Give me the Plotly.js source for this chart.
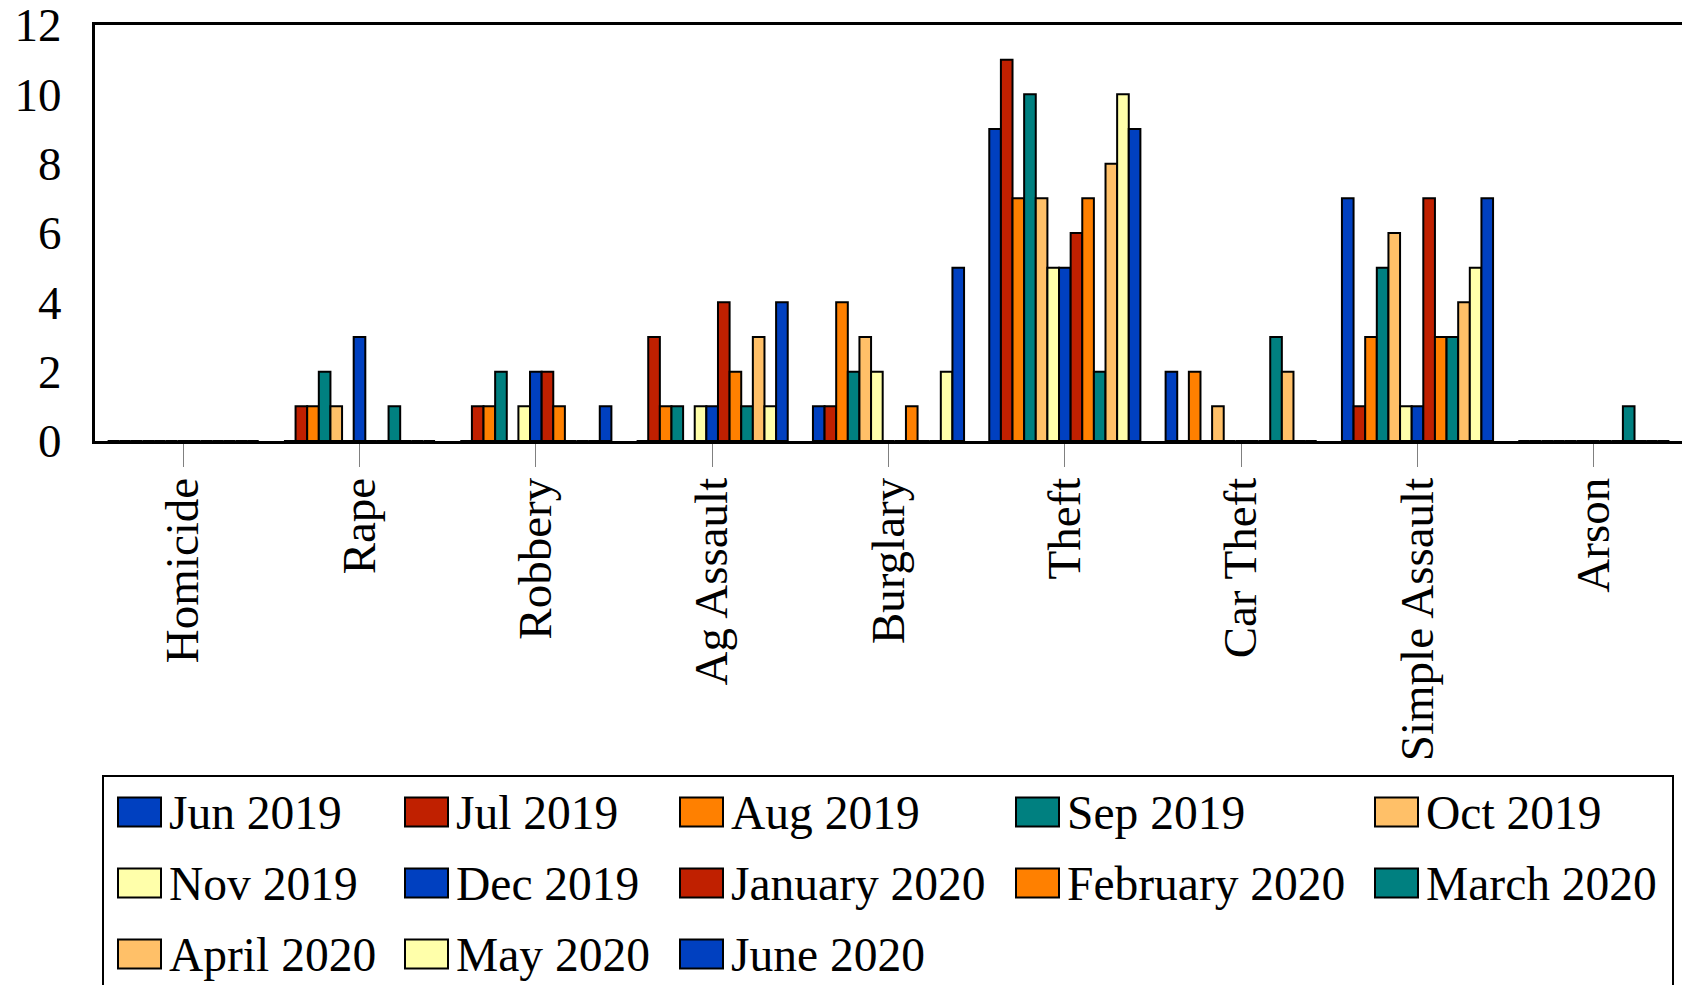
<!DOCTYPE html>
<html>
<head>
<meta charset="utf-8">
<script src="https://cdn.plot.ly/plotly-3.0.1.min.js"></script>
<style>
  html, body { margin: 0; padding: 0; background: #fff; }
  #chart { width: 1682px; height: 985px; }
</style>
</head>
<body>
<div id="chart"></div>
<script>
// ---- data ----
const categories = ["Homicide", "Rape", "Robbery", "Ag Assault", "Burglary", "Theft", "Car Theft", "Simple Assault", "Arson"];
const seriesNames = ["Jun 2019", "Jul 2019", "Aug 2019", "Sep 2019", "Oct 2019", "Nov 2019", "Dec 2019",
                     "January 2020", "February 2020", "March 2020", "April 2020", "May 2020", "June 2020"];
// values per series, in category order
const jun2019 = [0, 0, 0, 0, 1, 9, 2, 7, 0];
const jul2019 = [0, 1, 1, 3, 1, 11, 0, 1, 0];
const aug2019 = [0, 1, 1, 1, 4, 7, 2, 3, 0];
const sep2019 = [0, 2, 2, 1, 2, 10, 0, 5, 0];
const oct2019 = [0, 1, 0, 0, 3, 7, 1, 6, 0];
const nov2019 = [0, 0, 1, 1, 2, 5, 0, 1, 0];
const dec2019 = [0, 3, 2, 1, 0, 5, 0, 1, 0];
const jan2020 = [0, 0, 2, 4, 0, 6, 0, 7, 0];
const feb2020 = [0, 0, 1, 2, 1, 7, 0, 3, 0];
const mar2020 = [0, 1, 0, 1, 0, 2, 3, 3, 1];
const apr2020 = [0, 0, 0, 3, 0, 8, 2, 4, 0];
const may2020 = [0, 0, 0, 1, 2, 10, 0, 5, 0];
const jun2020 = [0, 0, 1, 4, 5, 9, 0, 7, 0];
const seriesValues = [jun2019, jul2019, aug2019, sep2019, oct2019, nov2019, dec2019,
                      jan2020, feb2020, mar2020, apr2020, may2020, jun2020];
const seriesColors = ["#0040C0", "#C02000", "#FF8000", "#008080", "#FFC068", "#FFFFAA",
                      "#0040C0", "#C02000", "#FF8000", "#008080", "#FFC068", "#FFFFAA", "#0040C0"];
const yTicks = [0, 2, 4, 6, 8, 10, 12];

// ---- layout constants ----
const W = 1682, H = 985;
const M = { l: 95, r: 0, t: 25, b: 544 };
const FONT = '"Liberation Serif", "Times New Roman", Times, serif';
const FS = 47;
const plotW = W - M.l - M.r, plotH = H - M.t - M.b;
const px2x = px => (px - M.l) / plotW;
const py2y = py => (H - M.b - py) / plotH;

const traces = seriesNames.map((name, i) => ({
  type: 'bar',
  name: name,
  x: categories,
  y: seriesValues[i],
  marker: { color: seriesColors[i], line: { color: '#000', width: 2 } },
  showlegend: false,
  hoverinfo: 'x+y+name'
}));

// custom legend (grid of 5 columns)
const legCols = [118, 405, 680, 1016, 1375];
const legRows = [812, 883, 954];
const swW = 43, swH = 29;
const shapes = [];
const annotations = [];
shapes.push({
  type: 'rect', xref: 'paper', yref: 'paper',
  x0: px2x(103), x1: px2x(1673), y0: py2y(1010), y1: py2y(776),
  line: { color: '#000', width: 2 }, fillcolor: 'rgba(0,0,0,0)'
});
seriesNames.forEach((name, i) => {
  const c = i % 5, r = Math.floor(i / 5);
  const sx = legCols[c], sy = legRows[r];
  shapes.push({
    type: 'rect', xref: 'paper', yref: 'paper',
    x0: px2x(sx), x1: px2x(sx + swW), y0: py2y(sy + swH / 2), y1: py2y(sy - swH / 2),
    line: { color: '#000', width: 2 }, fillcolor: seriesColors[i]
  });
  annotations.push({
    xref: 'paper', yref: 'paper', x: px2x(sx + swW + 6), y: py2y(sy + 1),
    xanchor: 'left', yanchor: 'middle', showarrow: false,
    text: name, font: { family: FONT, size: 47.5, color: '#000' }
  });
});

const layout = {
  width: W, height: H,
  margin: M,
  paper_bgcolor: '#fff', plot_bgcolor: '#fff',
  font: { family: FONT, size: FS, color: '#000' },
  barmode: 'group',
  bargap: 0.143,
  bargroupgap: 0,
  showlegend: false,
  xaxis: {
    type: 'category',
    showline: true, linecolor: '#000', linewidth: 3, mirror: true,
    showgrid: false, zeroline: false,
    ticks: 'outside', ticklen: 23, tickwidth: 1, tickcolor: '#808080',
    tickangle: -90, ticklabelstandoff: -8,
    tickfont: { family: FONT, size: FS, color: '#000' },
    range: [-0.5, 8.5]
  },
  yaxis: {
    range: [0, 12],
    tickvals: yTicks, ticktext: yTicks.map(String),
    showline: true, linecolor: '#000', linewidth: 3,
    showgrid: false, zeroline: false,
    ticks: '', ticklabelstandoff: 21,
    ticklabeloverflow: 'allow',
    tickfont: { family: FONT, size: FS, color: '#000' }
  },
  shapes: shapes,
  annotations: annotations
};

Plotly.newPlot('chart', traces, layout, { displayModeBar: false, staticPlot: true });
</script>
</body>
</html>
